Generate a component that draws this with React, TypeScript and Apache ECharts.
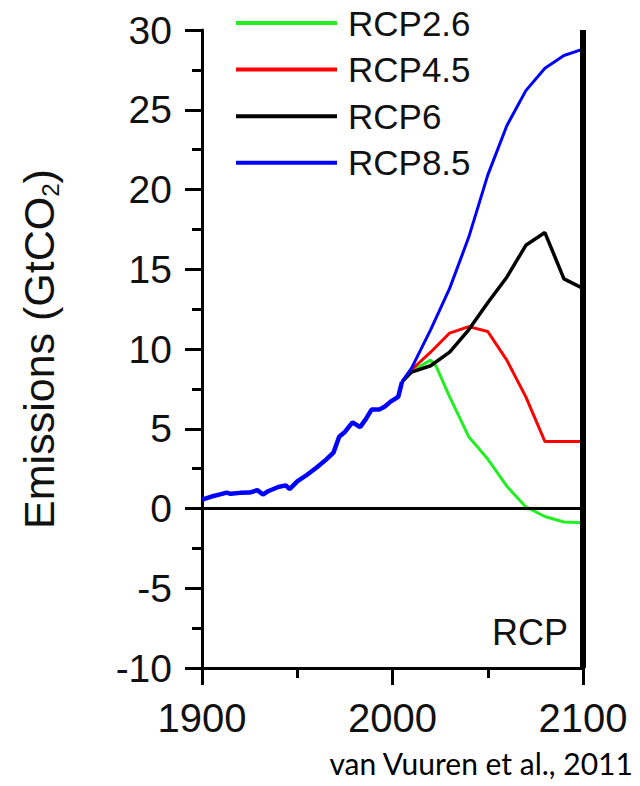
import React, { useEffect, useRef } from "react";
import * as echarts from "echarts";

const histYears = [1900, 1905, 1910, 1913, 1915, 1920, 1925, 1929, 1932, 1935, 1940, 1944, 1946, 1950, 1955, 1960, 1965, 1969, 1972, 1975, 1979, 1983, 1986, 1989, 1993, 1996, 1999, 2003, 2005];
const histValues = [0.55, 0.75, 0.9, 1.0, 0.92, 0.98, 1.0, 1.15, 0.88, 1.1, 1.35, 1.45, 1.22, 1.7, 2.1, 2.55, 3.05, 3.5, 4.5, 4.8, 5.4, 5.1, 5.6, 6.2, 6.2, 6.4, 6.7, 7.0, 7.95];

const rcpYears = [2005, 2010, 2020, 2030, 2040, 2050, 2060, 2070, 2080, 2090, 2100];
const rcp26Years = [2005, 2010, 2020, 2023, 2030, 2040, 2050, 2060, 2070, 2080, 2090, 2100];
const rcp26 = [7.95, 8.6, 9.3, 8.9, 7.0, 4.5, 3.1, 1.4, 0.1, -0.5, -0.85, -0.9];
const rcp45 = [7.95, 8.7, 9.8, 11.0, 11.4, 11.1, 9.3, 7.0, 4.2, 4.2, 4.2];
const rcp6 = [7.95, 8.55, 8.95, 9.8, 11.2, 12.9, 14.5, 16.5, 17.3, 14.4, 13.8];
const rcp85 = [7.95, 8.8, 11.2, 13.8, 17.0, 20.9, 24.0, 26.2, 27.6, 28.4, 28.8];

const seriesNames = ["RCP2.6", "RCP4.5", "RCP6", "RCP8.5"];
const seriesColors = ["#22ee22", "#ff0000", "#000000", "#0000ff"];

const pairs = (xs: number[], ys: number[]) => xs.map((x, i) => [x, ys[i]]);

export default function App() {
  const ref = useRef<HTMLDivElement>(null);
  useEffect(() => {
    if (!ref.current) return;
    const chart = echarts.init(ref.current, null, { renderer: "svg" });
    const font = "'Liberation Sans', Arial, Helvetica, sans-serif";
    const scenarioData = [
      pairs(rcp26Years, rcp26),
      pairs(rcpYears, rcp45),
      pairs(rcpYears, rcp6),
      pairs(rcpYears, rcp85),
    ];
    chart.setOption({
      animation: false,
      backgroundColor: "#ffffff",
      grid: { left: 202, right: 57, top: 30, bottom: 118, containLabel: false },
      legend: {
        data: seriesNames,
        orient: "vertical",
        left: 231,
        top: 0,
        icon: "rect",
        itemWidth: 101,
        itemHeight: 4,
        itemGap: 10.6,
        textStyle: { fontFamily: font, fontSize: 35, color: "#111", lineHeight: 36, padding: [0, 0, 0, 6] },
      },
      xAxis: {
        type: "value",
        min: 1900,
        max: 2100,
        interval: 100,
        axisLine: { show: true, onZero: false, lineStyle: { color: "#000", width: 3 } },
        axisTick: { show: true, length: 17, lineStyle: { color: "#000", width: 3 } },
        minorTick: { show: true, splitNumber: 2, length: 10, lineStyle: { color: "#000", width: 3 } },
        splitLine: { show: false },
        axisLabel: { fontFamily: font, fontSize: 40, color: "#111", margin: 30, formatter: (v: number) => String(v) },
      },
      yAxis: {
        type: "value",
        min: -10,
        max: 30,
        interval: 5,
        name: "Emissions (GtCO{sub|2})",
        nameLocation: "middle",
        nameGap: 140,
        nameRotate: 90,
        nameTextStyle: {
          fontFamily: font,
          fontSize: 43,
          color: "#111",
          rich: { sub: { fontFamily: font, fontSize: 24, color: "#111", padding: [22, 0, 0, 0] } },
        },
        axisLine: { show: true, onZero: false, lineStyle: { color: "#000", width: 3 } },
        axisTick: { show: true, length: 17, lineStyle: { color: "#000", width: 3 } },
        minorTick: { show: true, splitNumber: 2, length: 10, lineStyle: { color: "#000", width: 3 } },
        splitLine: { show: false },
        axisLabel: { fontFamily: font, fontSize: 39, color: "#111", margin: 30 },
      },
      graphic: [
        {
          type: "text",
          right: 72,
          top: 614,
          style: { text: "RCP", font: `36px ${font}`, fill: "#111" },
        },
        {
          type: "text",
          right: 6,
          top: 748,
          style: { text: "van Vuuren et al., 2011", font: "30px Lato, 'Open Sans', sans-serif", fill: "#000" },
        },
      ],
      series: [
        {
          name: "Historical",
          type: "line",
          data: pairs(histYears, histValues),
          showSymbol: false,
          color: "#0000ff",
          lineStyle: { color: "#0000ff", width: 4.5 },
          z: 3,
          markLine: {
            silent: true,
            symbol: "none",
            label: { show: false },
            data: [
              { yAxis: 0, lineStyle: { color: "#000", width: 3, type: "solid" } },
              { xAxis: 2100, lineStyle: { color: "#000", width: 6, type: "solid" } },
            ],
          },
        },
        ...seriesNames.map((name, i) => ({
          name,
          type: "line",
          data: scenarioData[i],
          showSymbol: false,
          color: seriesColors[i],
          lineStyle: { color: seriesColors[i], width: i === 2 ? 3.5 : 3 },
          z: 2,
        })),
      ],
    });
    return () => chart.dispose();
  }, []);
  return <div ref={ref} style={{ width: 640, height: 786, position: "absolute", left: 0, top: 0 }} />;
}
